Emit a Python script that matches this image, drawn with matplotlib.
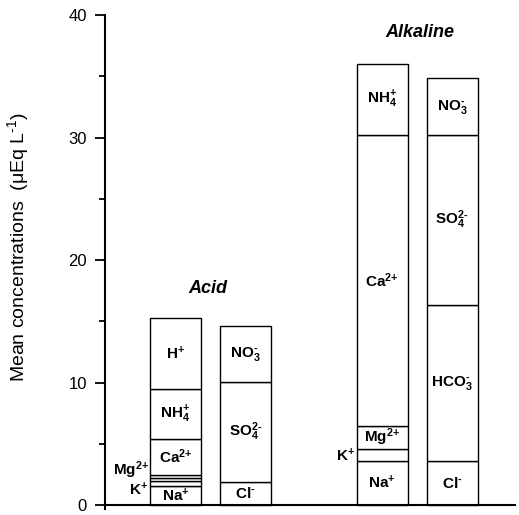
import matplotlib
matplotlib.use("Agg")
import matplotlib.pyplot as plt

plt.rcParams['font.family'] = ['Liberation Sans', 'DejaVu Sans']
plt.rcParams['mathtext.default'] = 'regular'

# mean concentrations (ueq/L), stacked bottom -> top
acid_cations = [1.55, 0.45, 0.22, 0.26, 2.94, 4.03, 5.85]
acid_cation_labels = ['Na$^{+}$', 'K$^{+}$', 'Mg$^{2{+}}$', '', 'Ca$^{2{+}}$',
                      'NH$_4^{+}$', 'H$^{+}$']
acid_anions = [1.94, 8.10, 4.59]
acid_anion_labels = ['Cl$^{‐}$', 'SO$_4^{2‐}$', 'NO$_3^{‐}$']

alk_cations = [3.62, 0.94, 1.92, 23.72, 5.83]
alk_cation_labels = ['Na$^{+}$', 'K$^{+}$', 'Mg$^{2{+}}$', 'Ca$^{2{+}}$', 'NH$_4^{+}$']
alk_anions = [3.62, 12.76, 13.82, 4.64]
alk_anion_labels = ['Cl$^{‐}$', 'HCO$_3^{‐}$', 'SO$_4^{2‐}$', 'NO$_3^{‐}$']

bars = [(acid_cations, acid_cation_labels),
        (acid_anions, acid_anion_labels),
        (alk_cations, alk_cation_labels),
        (alk_anions, alk_anion_labels)]
xpos = [70.5, 140.5, 277, 347]
width = 51

fig = plt.figure(figsize=(5.19, 5.15), dpi=100)
ax = fig.add_axes([105 / 519, 1 - 509 / 515, 410 / 519, 494 / 515])

for x, (vals, labs) in zip(xpos, bars):
    bottom = 0
    outside = []
    for v, lab in zip(vals, labs):
        ax.bar(x, v, width=width, bottom=bottom, color='white',
               edgecolor='black', linewidth=1.0)
        if lab:
            if v < 1:
                outside.append((bottom, v, lab))
            else:
                ax.text(x, bottom + v / 2, lab, ha='center', va='center',
                        fontsize=11, fontweight='bold')
        bottom += v
    # thin segments get their labels left of the bar
    for i, (b, v, lab) in enumerate(outside):
        if len(outside) == 2:
            y, va = (b + v, 'top') if i == 0 else (b, 'bottom')
        else:
            y, va = b + v / 2, 'center'
        ax.text(x - width / 2 - 1.5, y, lab, ha='right', va=va,
                fontsize=11, fontweight='bold')

ax.text(103, 17.7, 'Acid', ha='center', va='center', fontsize=13,
        fontweight='bold', style='italic')
ax.text(315, 38.6, 'Alkaline', ha='center', va='center', fontsize=13,
        fontweight='bold', style='italic')

ax.set_xlim(0, 410)
ax.set_ylim(-0.3, 40)
ax.spines['top'].set_visible(False)
ax.spines['right'].set_visible(False)
ax.spines['bottom'].set_position(('data', 0))
ax.spines['left'].set_bounds(-0.3, 40)
ax.spines['left'].set_linewidth(1.5)
ax.spines['bottom'].set_linewidth(1.5)
ax.set_xticks([])
ax.set_yticks([0, 10, 20, 30, 40])
ax.set_yticks([5, 15, 25, 35], minor=True)
ax.tick_params(axis='y', which='major', length=7, width=1.3, labelsize=12, pad=6)
ax.tick_params(axis='y', which='minor', length=4, width=1.3)
ax.set_ylabel('Mean concentrations  (μEq L$^{‐1}$)', fontsize=14)
ax.yaxis.set_label_coords(-0.18, 0.53)

fig.savefig('out.png', dpi=100)
